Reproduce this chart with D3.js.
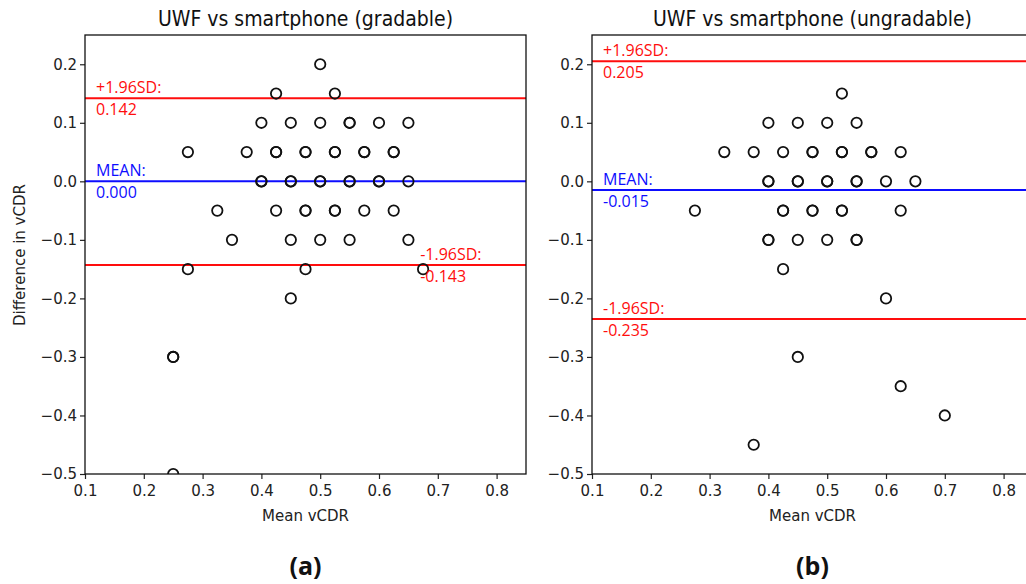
<!DOCTYPE html>
<html><head><meta charset="utf-8">
<script src="https://cdn.jsdelivr.net/npm/d3@7"></script>
<style>
body{margin:0;background:#fff;}
</style></head>
<body><svg id="c" width="1026" height="584"></svg>
<script>
// ---- data ----
const titles = ["UWF vs smartphone (gradable)", "UWF vs smartphone (ungradable)"];
const panelTags = ["(a)", "(b)"];
const xTicks = [0.1,0.2,0.3,0.4,0.5,0.6,0.7,0.8];
const yTicks = [0.2,0.1,0.0,-0.1,-0.2,-0.3,-0.4,-0.5];
// gradable: mean vCDR, difference
const gradX = [0.5,0.425,0.525,
  0.4,0.45,0.5,0.55,0.55,0.6,0.65,
  0.275,0.375,0.425,0.425,0.475,0.475,0.525,0.525,0.575,0.575,0.625,0.625,
  0.4,0.4,0.45,0.45,0.5,0.5,0.55,0.55,0.6,0.6,0.65,
  0.325,0.425,0.475,0.475,0.525,0.525,0.575,0.625,
  0.35,0.45,0.5,0.55,0.65,
  0.275,0.475,0.675,0.45,0.25,0.25,0.25];
const gradY = [0.2,0.15,0.15,
  0.1,0.1,0.1,0.1,0.1,0.1,0.1,
  0.05,0.05,0.05,0.05,0.05,0.05,0.05,0.05,0.05,0.05,0.05,0.05,
  0,0,0,0,0,0,0,0,0,0,0,
  -0.05,-0.05,-0.05,-0.05,-0.05,-0.05,-0.05,-0.05,
  -0.1,-0.1,-0.1,-0.1,-0.1,
  -0.15,-0.15,-0.15,-0.2,-0.3,-0.3,-0.5];
// ungradable
const ungradX = [0.525,
  0.4,0.45,0.5,0.55,
  0.325,0.375,0.425,0.475,0.475,0.525,0.525,0.575,0.575,0.625,
  0.4,0.4,0.45,0.45,0.5,0.5,0.55,0.55,0.6,0.65,
  0.275,0.425,0.425,0.475,0.475,0.525,0.525,0.625,
  0.4,0.4,0.45,0.5,0.55,0.55,
  0.425,0.6,0.45,0.625,0.7,0.375];
const ungradY = [0.15,
  0.1,0.1,0.1,0.1,
  0.05,0.05,0.05,0.05,0.05,0.05,0.05,0.05,0.05,0.05,
  0,0,0,0,0,0,0,0,0,0,
  -0.05,-0.05,-0.05,-0.05,-0.05,-0.05,-0.05,-0.05,
  -0.1,-0.1,-0.1,-0.1,-0.1,-0.1,
  -0.15,-0.2,-0.3,-0.35,-0.4,-0.45];
const upperSD = [0.142, 0.205];
const meanDiff = [0.000, -0.015];
const lowerSD = [-0.143, -0.235];
const upperTxt = ["0.142","0.205"];
const meanTxt = ["0.000","-0.015"];
const lowerTxt = ["-0.143","-0.235"];

// ---- layout ----
const panels = [
  {x0:85, x1:526, xs:gradX, ys:gradY, lowRight:true},
  {x0:592, x1:1033, xs:ungradX, ys:ungradY, lowRight:false}
];
const yTop = 35, yBot = 474;
const svg = d3.select("#c");
const fmt = d => d3.format(".1f")(d).replace("-", "\u2212");
const DJ = "'DejaVu Sans',sans-serif";
const DJC = "'DejaVu Sans Condensed','DejaVu Sans',sans-serif";
const OS = "'Open Sans','Noto Sans',sans-serif";

panels.forEach((p, i) => {
  const x = d3.scaleLinear().domain([0.1, 0.85]).range([p.x0, p.x1]);
  const y = d3.scaleLinear().domain([-0.5, 0.25]).range([yBot, yTop]);
  const g = svg.append("g");

  svg.append("clipPath").attr("id", "clip" + i).append("rect")
    .attr("x", p.x0).attr("y", yTop).attr("width", p.x1 - p.x0).attr("height", yBot - yTop);

  // axes
  const xa = g.append("g").attr("transform", `translate(0,${yBot})`)
    .call(d3.axisBottom(x).tickValues(xTicks).tickFormat(d3.format(".1f")).tickSizeOuter(0).tickSize(5));
  const ya = g.append("g").attr("transform", `translate(${p.x0},0)`)
    .call(d3.axisLeft(y).tickValues(yTicks).tickFormat(fmt).tickSizeOuter(0).tickSize(5));
  [xa, ya].forEach(a => {
    a.select(".domain").remove();
    a.attr("font-family", null).attr("font-size", null);
    a.selectAll("text").style("font-size", "15px").style("fill", "#222")
      .style("font-family", DJ);
    a.selectAll("line").attr("stroke", "#222").attr("stroke-width", 1.2);
  });
  xa.selectAll("text").attr("dy", "0.95em");

  // reference lines
  const lines = [
    {v: upperSD[i], c: "#ff0d0d"},
    {v: meanDiff[i], c: "#0d0dff"},
    {v: lowerSD[i], c: "#ff0d0d"}
  ];
  g.selectAll(".rl" + i).data(lines).enter().append("line")
    .attr("x1", p.x0).attr("x2", p.x1)
    .attr("y1", d => y(d.v)).attr("y2", d => y(d.v))
    .attr("stroke", d => d.c).attr("stroke-width", 2);

  // points
  g.append("g").attr("clip-path", `url(#clip${i})`)
    .selectAll("circle").data(p.xs.map((v, k) => [v, p.ys[k]])).enter().append("circle")
    .attr("cx", d => x(d[0])).attr("cy", d => y(d[1])).attr("r", 5.2)
    .attr("fill", "none").attr("stroke", "#111").attr("stroke-width", 1.8);

  // frame
  g.append("rect").attr("x", p.x0).attr("y", yTop)
    .attr("width", p.x1 - p.x0).attr("height", yBot - yTop)
    .attr("fill", "none").attr("stroke", "#111").attr("stroke-width", 1.3);

  // labels
  const lx = x(0.1) + 11;
  const lab = (tx, ty, t, c) => g.append("text")
    .attr("x", tx).attr("y", ty).style("font-family", OS).style("font-size", "16px")
    .style("fill", c).text(t);
  lab(lx, y(upperSD[i]) - 5, "+1.96SD:", "#ff0d0d");
  lab(lx, y(upperSD[i]) + 17, upperTxt[i], "#ff0d0d");
  lab(lx, y(meanDiff[i]) - 5, "MEAN:", "#0d0dff");
  lab(lx, y(meanDiff[i]) + 17, meanTxt[i], "#0d0dff");
  const llx = p.lowRight ? x(0.67) : lx;
  lab(llx, y(lowerSD[i]) - 5, "-1.96SD:", "#ff0d0d");
  lab(llx, y(lowerSD[i]) + 17, lowerTxt[i], "#ff0d0d");

  // titles
  const cx = x(0.475);
  g.append("text").attr("x", cx).attr("y", 26).attr("text-anchor", "middle")
    .style("font-family", DJC).style("font-size", "21px").style("fill", "#111").text(titles[i]);
  g.append("text").attr("x", cx).attr("y", 521).attr("text-anchor", "middle")
    .style("font-family", DJ).style("font-size", "15px").style("fill", "#222").text("Mean vCDR");
  g.append("text").attr("x", cx).attr("y", 575).attr("text-anchor", "middle")
    .style("font-family", OS).style("font-size", "25px").style("font-weight", "bold")
    .style("fill", "#111").text(panelTags[i]);
  if (i === 0) {
    g.append("text").attr("transform", `translate(25,255) rotate(-90)`)
      .attr("text-anchor", "middle")
      .style("font-family", DJ).style("font-size", "15px").style("fill", "#222")
      .text("Difference in vCDR");
  }
});
</script></body></html>
